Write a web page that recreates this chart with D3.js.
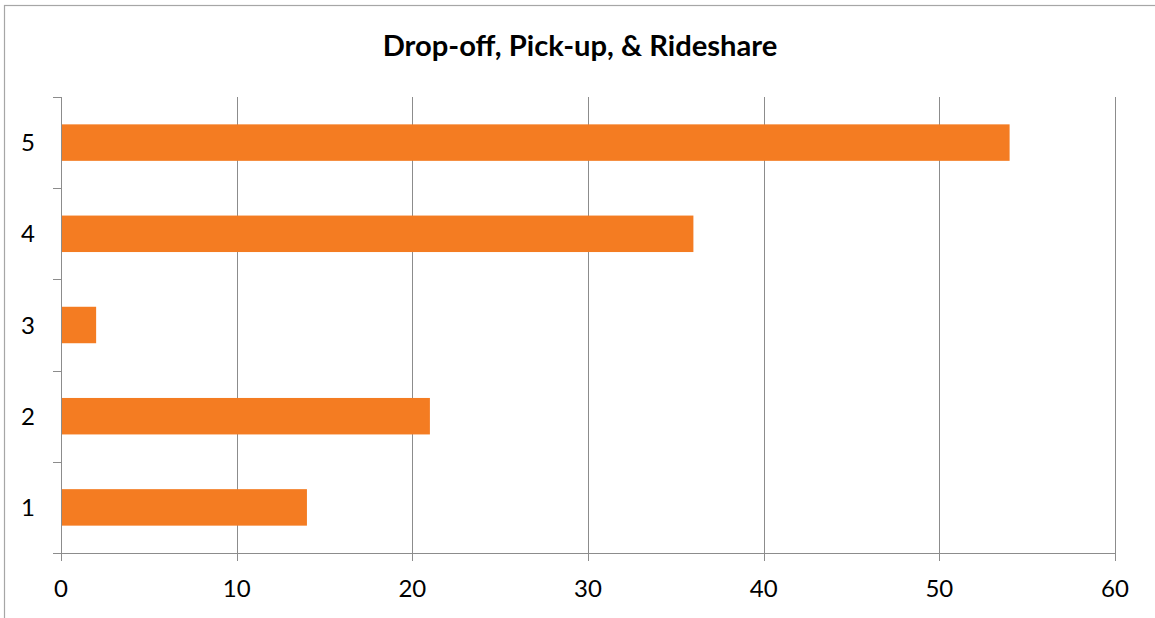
<!DOCTYPE html>
<html><head><meta charset="utf-8">
<script src="https://cdn.jsdelivr.net/npm/d3@7"></script>
<style>html,body{margin:0;padding:0;background:#fff;overflow:hidden}</style>
</head><body>
<svg id="c" width="1155" height="618"></svg>
<script>
const title = "Drop-off, Pick-up, & Rideshare";
const categories = ["1", "2", "3", "4", "5"];
const values = [14, 21, 2, 36, 54];
const xTicks = [0, 10, 20, 30, 40, 50, 60];

const svg = d3.select("#c");
const font = "Lato, 'Open Sans', sans-serif";
const gridColor = "#8c8c8c";

svg.append("rect").attr("x", 4.5).attr("y", 5.5).attr("width", 1170).attr("height", 640)
  .attr("fill", "#fff").attr("stroke", "#a6a6a6").attr("stroke-width", 1.2);

const x = d3.scaleLinear().domain([0, 60]).range([61, 1115]);
const y = d3.scaleBand().domain(categories.slice().reverse()).range([97, 553])
  .paddingInner(0.6).paddingOuter(0.3);
const step = y.step();

// vertical gridlines + x ticks
svg.append("g").selectAll("line").data(xTicks).join("line")
  .attr("x1", d => Math.round(x(d)) + 0.5).attr("x2", d => Math.round(x(d)) + 0.5)
  .attr("y1", 97).attr("y2", 561)
  .attr("stroke", gridColor).attr("stroke-width", 1);

// bars
svg.append("g").selectAll("rect").data(categories).join("rect")
  .attr("x", x(0)).attr("y", (d) => y(d))
  .attr("width", (d, i) => x(values[i]) - x(0)).attr("height", y.bandwidth())
  .attr("fill", "#f47c22");

// y axis line and ticks
svg.append("line").attr("x1", 61.5).attr("x2", 61.5).attr("y1", 97).attr("y2", 561)
  .attr("stroke", gridColor);
const bounds = categories.map(c => y(c) - step * 0.3).concat([553]);
svg.append("g").selectAll("line").data(bounds).join("line")
  .attr("x1", 53).attr("x2", 61).attr("y1", d => Math.round(d) + 0.5).attr("y2", d => Math.round(d) + 0.5)
  .attr("stroke", gridColor);
// x axis line
svg.append("line").attr("x1", 53).attr("x2", 1116).attr("y1", 553.5).attr("y2", 553.5)
  .attr("stroke", gridColor);

// x tick labels
svg.append("g").selectAll("text").data(xTicks).join("text")
  .attr("x", d => x(d)).attr("y", 597)
  .attr("text-anchor", "middle").attr("font-family", font).attr("font-size", 24)
  .attr("fill", "#000").text(d => d);

// y tick labels
svg.append("g").selectAll("text").data(categories).join("text")
  .attr("x", 35).attr("y", d => y(d) + y.bandwidth() / 2)
  .attr("dy", "0.36em")
  .attr("text-anchor", "end").attr("font-family", font).attr("font-size", 24)
  .attr("fill", "#000").text(d => d);

// title
const t = svg.append("text").attr("x", 580).attr("y", 56)
  .attr("text-anchor", "middle").attr("font-family", font).attr("font-weight", "bold")
  .attr("font-size", 22).attr("fill", "#000").text(title);
const w = t.node().getComputedTextLength();
t.attr("font-size", 22 * 395 / w);
</script>
</body></html>
